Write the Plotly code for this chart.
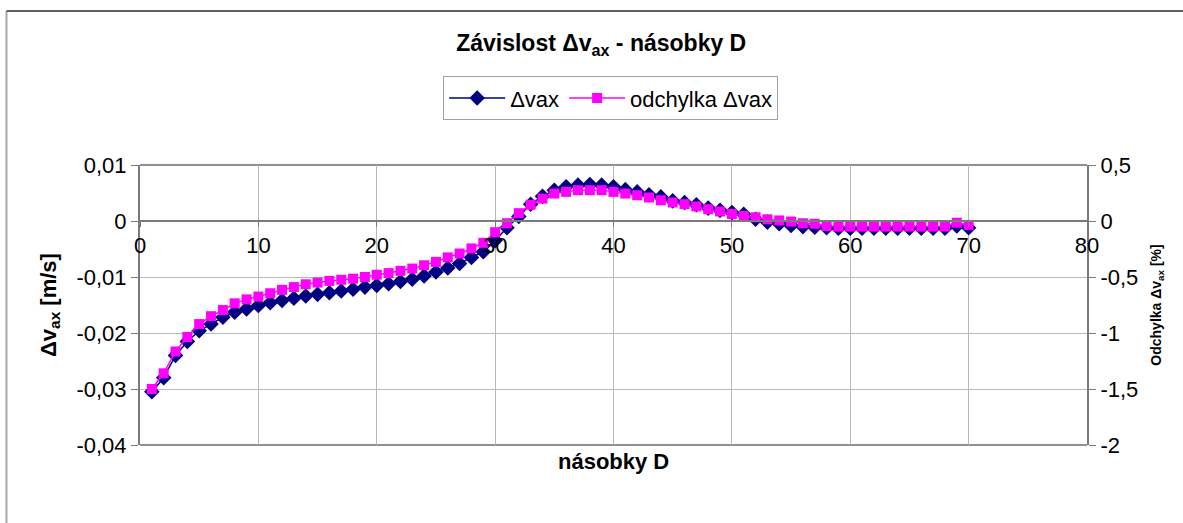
import plotly.graph_objects as go

# násobky D (x) and the two series
nasobky_d = list(range(1, 71))

dvax = [
    -0.0305, -0.0280, -0.0240, -0.0215, -0.0196, -0.0184, -0.0172, -0.0163, -0.0157, -0.0151,
    -0.0146, -0.0142, -0.0138, -0.0134, -0.0131, -0.0128, -0.0125, -0.0122, -0.0118, -0.0115,
    -0.0112, -0.0108, -0.0104, -0.0098, -0.0091, -0.0084, -0.0076, -0.0065, -0.0055, -0.0035,
    -0.0012, 0.0008, 0.0030, 0.0044, 0.0055, 0.0061, 0.0064, 0.0065, 0.0064, 0.0061,
    0.0056, 0.0052, 0.0047, 0.0043, 0.0036, 0.0033, 0.0029, 0.0023, 0.0019, 0.0015,
    0.0012, 0.0003, -0.0002, -0.0005, -0.0008, -0.0010, -0.0011, -0.0012, -0.0013, -0.0013,
    -0.0013, -0.0013, -0.0013, -0.0013, -0.0013, -0.0013, -0.0013, -0.0013, -0.0009, -0.0012,
]

odchylka = [
    -1.50, -1.36, -1.165, -1.035, -0.92, -0.85, -0.795, -0.735, -0.70, -0.675,
    -0.645, -0.615, -0.59, -0.565, -0.55, -0.535, -0.525, -0.515, -0.50, -0.48,
    -0.465, -0.445, -0.425, -0.395, -0.365, -0.325, -0.29, -0.245, -0.195, -0.10,
    -0.02, 0.07, 0.145, 0.20, 0.245, 0.26, 0.275, 0.275, 0.275, 0.26,
    0.245, 0.23, 0.21, 0.185, 0.165, 0.15, 0.13, 0.105, 0.085, 0.0625,
    0.045, 0.033, 0.015, 0.005, -0.005, -0.02, -0.025, -0.045, -0.05, -0.05,
    -0.05, -0.05, -0.05, -0.05, -0.05, -0.05, -0.05, -0.05, -0.015, -0.035,
]

x_ticks = [0, 10, 20, 30, 40, 50, 60, 70, 80]
x_ticktext = ["0", "10", "20", "30", "40", "50", "60", "70", "80"]
y_ticks = [0.01, 0, -0.01, -0.02, -0.03, -0.04]
y_ticktext = ["0,01", "0", "-0,01", "-0,02", "-0,03", "-0,04"]
y2_ticks = [0.5, 0, -0.5, -1, -1.5, -2]
y2_ticktext = ["0,5", "0", "-0,5", "-1", "-1,5", "-2"]

FONT = "Liberation Sans, Arial, sans-serif"
GRID = "#b8b8b8"
AXIS = "#7a7a7a"

fig = go.Figure()
fig.add_trace(go.Scatter(
    x=nasobky_d, y=dvax, name="Δvax", mode="lines+markers",
    line=dict(color="#000080", width=1.5),
    marker=dict(symbol="diamond", size=12, color="#000080"),
))
fig.add_trace(go.Scatter(
    x=nasobky_d, y=odchylka, name="odchylka Δvax", mode="lines+markers",
    yaxis="y2",
    line=dict(color="#ff00ff", width=1.5),
    marker=dict(symbol="square", size=10, color="#ff00ff"),
))

fig.update_layout(
    width=1183, height=523,
    margin=dict(l=140, r=96, t=165, b=78, autoexpand=False),
    paper_bgcolor="white", plot_bgcolor="white",
    font=dict(family=FONT, size=22, color="black"),
    title=dict(
        text="<b>Závislost Δv<sub>ax</sub> - násobky D</b>",
        x=0.487, xanchor="center", xref="paper",
        y=1 - 43 / 523, yanchor="middle",
        font=dict(size=23),
    ),
    legend=dict(
        orientation="h", x=0.497, xanchor="center", y=1.317, yanchor="top",
        bordercolor="#a0a0a0", borderwidth=1, font=dict(size=22),
        itemwidth=56, tracegroupgap=0,
    ),
    xaxis=dict(
        range=[0, 80], tickvals=x_ticks, ticktext=x_ticktext,
        anchor="free", position=0.8,
        showline=True, linecolor=AXIS, linewidth=2,
        ticks="outside", ticklen=5, tickcolor=AXIS,
        showgrid=True, gridcolor=GRID, gridwidth=1, zeroline=False,
    ),
    yaxis=dict(
        range=[-0.04, 0.01], tickvals=y_ticks, ticktext=y_ticktext,
        showline=True, linecolor=AXIS, linewidth=2,
        ticks="outside", ticklen=7, tickcolor=AXIS,
        showgrid=True, gridcolor=GRID, gridwidth=1, zeroline=False,
        title=dict(text="<b>Δv<sub>ax</sub> [m/s]</b>", font=dict(size=22), standoff=14),
    ),
    yaxis2=dict(
        range=[-2, 0.5], tickvals=y2_ticks, ticktext=y2_ticktext,
        overlaying="y", side="right",
        showline=True, linecolor=AXIS, linewidth=2,
        ticks="outside", ticklen=7, tickcolor=AXIS,
        showgrid=False, zeroline=False,
        title=dict(text="<b>Odchylka Δv<sub>ax</sub> [%]</b>", font=dict(size=14), standoff=14),
    ),
    shapes=[
        # plot area frame (top and bottom)
        dict(type="line", xref="paper", yref="paper", x0=0, x1=1, y0=1, y1=1,
             line=dict(color="#909090", width=2), layer="below"),
        dict(type="line", xref="paper", yref="paper", x0=0, x1=1, y0=0, y1=0,
             line=dict(color="#909090", width=2), layer="below"),
        # outer chart border
        dict(type="line", xref="paper", yref="paper", x0=-0.141, x1=-0.141, y0=1.55, y1=-0.3,
             line=dict(color="#a8a8a8", width=2)),
        dict(type="line", xref="paper", yref="paper", x0=-0.141, x1=1.12, y0=1.55, y1=1.55,
             line=dict(color="#606060", width=2)),
    ],
    annotations=[
        dict(text="<b>násobky D</b>", xref="paper", yref="paper", x=0.5, y=-0.06,
             xanchor="center", yanchor="middle", showarrow=False, font=dict(size=22)),
    ],
)

fig.write_html(
    "out.html",
    config={"displayModeBar": False},
    post_script="document.body.style.margin='0';",
)
